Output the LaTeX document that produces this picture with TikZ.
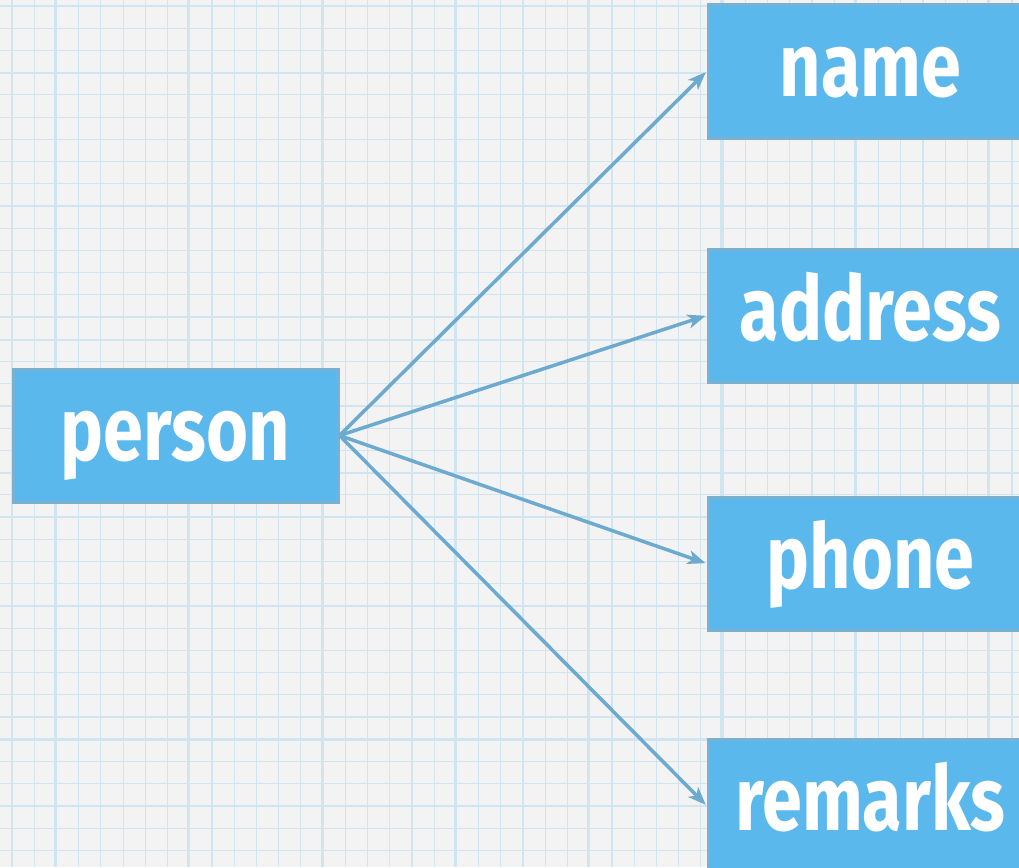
\documentclass[tikz,border=0pt]{standalone}
\usepackage{fontspec}
\newfontfamily\hand[FakeStretch=0.8]{Fira Sans}
\usetikzlibrary{arrows.meta}
\definecolor{bg}{RGB}{243,243,243}
\definecolor{gridc}{RGB}{208,229,240}
\definecolor{boxfill}{RGB}{91,184,236}
\definecolor{boxline}{RGB}{122,176,210}
\definecolor{arrowc}{RGB}{108,170,208}
\tikzset{
  entity/.style={draw=boxline, line width=3pt, fill=boxfill, text=white,
    minimum width=325pt, minimum height=133pt, inner sep=0pt,
    text height=60pt, text depth=11pt,
    font=\hand\bfseries\fontsize{90}{92}\selectfont},
  link/.style={draw=arrowc, line width=3.5pt,
    -{Stealth[length=18pt,width=14pt,inset=5pt]}, shorten >=1pt}
}
\begin{document}
\begin{tikzpicture}[x=1pt,y=-1pt]
\useasboundingbox (0,0) rectangle (1019,867);
\clip (0,0) rectangle (1019,867);
\fill[bg] (0,0) rectangle (1019,867);
% minor grid
\foreach \i in {0,...,45} {
  \draw[gridc, line width=1.2pt] ({12+22.22*\i},0) -- ({12+22.22*\i},867);
}
\foreach \i in {0,...,39} {
  \draw[gridc, line width=1.2pt] (0,{6+22.22*\i}) -- (1019,{6+22.22*\i});
}
% major grid
\foreach \i in {0,...,7} {
  \draw[gridc, line width=2.2pt] ({55+133.3*\i},0) -- ({55+133.3*\i},867);
}
\foreach \i in {0,...,6} {
  \draw[gridc, line width=2.2pt] (0,{73+133.3*\i}) -- (1019,{73+133.3*\i});
}
\node[entity] (person)  at (175.5,435.5) {person};
\node[entity] (name)    at (870.5,71.5)  {name};
\node[entity] (address) at (870.5,315.5) {address};
\node[entity] (phone)   at (870.5,563.5) {phone};
\node[entity] (remarks) at (870.5,805.5) {remarks};
\draw[link] (person.east) -- (name.west);
\draw[link] (person.east) -- (address.west);
\draw[link] (person.east) -- (phone.west);
\draw[link] (person.east) -- (remarks.west);
\end{tikzpicture}
\end{document}
